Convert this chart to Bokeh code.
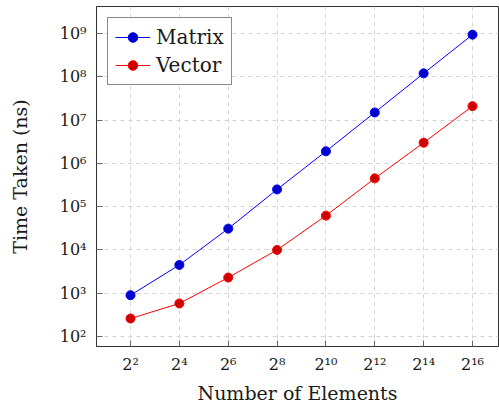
from bokeh.plotting import figure
from bokeh.models import Range1d, FixedTicker, Legend, LegendItem
from bokeh.embed import file_html
from bokeh.resources import INLINE

# ---- data ----
elements = [4, 16, 64, 256, 1024, 4096, 16384, 65536]
x_tick_labels = ["2²", "2⁴", "2⁶", "2⁸", "2¹⁰", "2¹²", "2¹⁴", "2¹⁶"]
matrix = [900, 4500, 31000, 250000, 1.9e6, 1.5e7, 1.2e8, 9.4e8]
vector = [260, 580, 2300, 10000, 62000, 450000, 3.0e6, 2.1e7]
y_ticks = [1e2, 1e3, 1e4, 1e5, 1e6, 1e7, 1e8, 1e9]
y_tick_labels = ["10²", "10³", "10⁴", "10⁵", "10⁶", "10⁷", "10⁸", "10⁹"]
series_names = ["Matrix", "Vector"]

FONT = "DejaVu Serif"
TXT = "#1a1a1a"

p = figure(frame_width=402, frame_height=340, x_axis_type="log", y_axis_type="log",
           x_range=Range1d(2 ** 0.608, 2 ** 17.064),
           y_range=Range1d(10 ** 1.769, 10 ** 9.624),
           output_backend="svg", toolbar_location=None,
           min_border_left=96, min_border_right=1, min_border_top=6,
           min_border_bottom=5)
p.background_fill_color = "white"
p.border_fill_color = "white"
p.outline_line_color = "#333333"
p.outline_line_width = 1

xt = FixedTicker(ticks=elements, minor_ticks=[])
yt = FixedTicker(ticks=y_ticks, minor_ticks=[])

xa = p.below[0]
ya = p.left[0]
xa.ticker = xt
ya.ticker = yt
xa.major_label_overrides = {float(v): s for v, s in zip(elements, x_tick_labels)}
ya.major_label_overrides = {float(v): s for v, s in zip(y_ticks, y_tick_labels)}

for ax in (xa, ya):
    ax.major_tick_in = 6
    ax.major_tick_out = 0
    ax.minor_tick_line_color = None
    ax.major_tick_line_color = "#666666"
    ax.axis_line_color = "#333333"
    ax.major_label_text_font = FONT
    ax.major_label_text_font_size = "16px"
    ax.major_label_text_color = TXT
    ax.axis_label_text_font = FONT
    ax.axis_label_text_font_size = "19px"
    ax.axis_label_text_font_style = "normal"
    ax.axis_label_text_color = TXT

xa.axis_label = "Number of Elements"
ya.axis_label = "Time Taken (ns)"
xa.major_label_standoff = 8
xa.axis_label_standoff = 5
ya.major_label_standoff = 10
ya.axis_label_standoff = 26

p.xgrid.ticker = xt
p.ygrid.ticker = yt
for g in (p.xgrid, p.ygrid):
    g.grid_line_color = "#d4d4d4"
    g.grid_line_dash = "4 4"
    g.grid_line_width = 1

colors = [("#0000ff", "#0000cc"), ("#ff0000", "#cc0000")]
items = []
for name, ys, (lc, fc) in zip(series_names, [matrix, vector], colors):
    r1 = p.line(elements, ys, line_color=lc, line_width=1)
    r2 = p.scatter(elements, ys, size=9, fill_color=fc, line_color=lc, line_width=1)
    items.append(LegendItem(label=name, renderers=[r1, r2]))

legend = Legend(items=items, location="top_left", margin=11,
                label_text_font=FONT, label_text_font_size="20px",
                label_text_color=TXT, glyph_width=35, glyph_height=24,
                label_height=24, padding=7, spacing=4, label_standoff=6,
                border_line_color="#111111", border_line_width=1,
                background_fill_alpha=1)
p.add_layout(legend)

open("out.html", "w").write(file_html(p, INLINE))
